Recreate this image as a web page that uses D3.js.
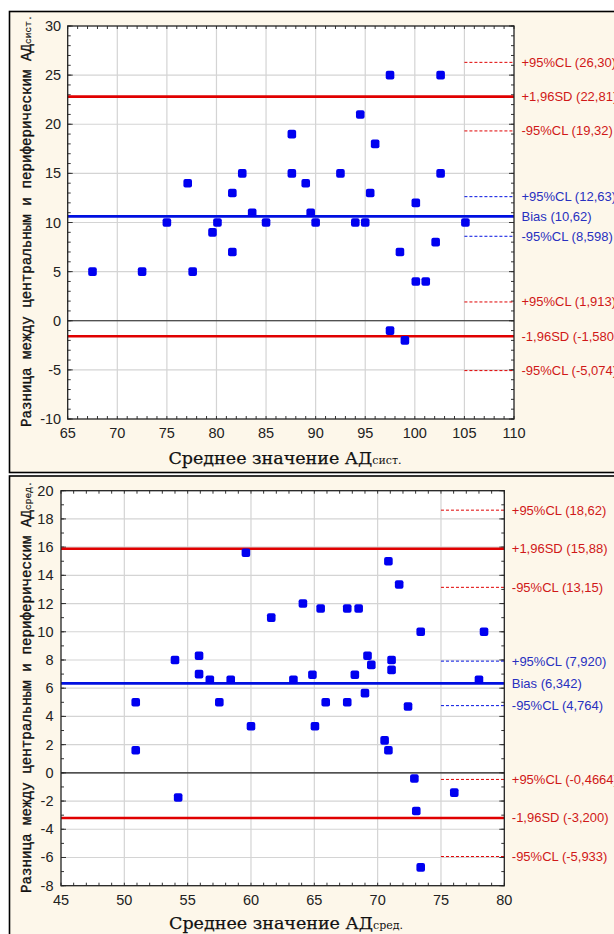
<!DOCTYPE html>
<html>
<head>
<meta charset="utf-8">
<script src="https://cdn.jsdelivr.net/npm/d3@7"></script>
<style>
  body { margin: 0; background: #fff; }
  svg text { font-family: "Liberation Sans", Arial, sans-serif; }
</style>
</head>
<body>
<svg id="chart" width="614" height="934"></svg>
<script>
// --- data: systolic (top) ---
var sysX = [67.5, 72.5, 75, 77.1, 77.6, 79.6, 80.1, 81.6, 81.6, 82.6, 83.6, 85, 87.6, 87.6, 89, 89.5, 90,
            92.5, 94, 94.5, 95, 95.5, 96, 97.5, 97.5, 98.5, 99, 100.1, 100.1, 101.1, 102.1, 102.6, 102.6, 105.1];
var sysY = [5, 5, 10, 14, 5, 9, 10, 13, 7, 15, 11, 10, 19, 15, 14, 11, 10,
            15, 10, 21, 10, 13, 18, 25, -1, 7, -2, 12, 4, 4, 8, 25, 15, 10];
var sysSolid = [22.81, 10.62, -1.58];
var sysSolidColors = ["#e00000", "#0010e0", "#e00000"];
var sysDashed = [26.30, 19.32, 12.63, 8.598, 1.913, -5.074];
var sysDashedColors = ["#e00000", "#e00000", "#0010e0", "#0010e0", "#e00000", "#e00000"];
var sysLabelVals = [26.30, 22.81, 19.32, 12.63, 10.62, 8.598, 1.913, -1.58, -5.074];
var sysLabels = ["+95%CL (26,30)", "+1,96SD (22,81)", "-95%CL (19,32)", "+95%CL (12,63)", "Bias (10,62)",
                 "-95%CL (8,598)", "+95%CL (1,913)", "-1,96SD (-1,580)", "-95%CL (-5,074)"];
var sysLabelColors = ["#d01818", "#d01818", "#d01818", "#2830c0", "#2830c0", "#2830c0", "#d01818", "#d01818", "#d01818"];

// --- data: mean (bottom) ---
var midX = [50.9, 50.9, 54, 54.25, 55.9, 55.9, 56.75, 57.5, 58.4, 59.6, 60, 61.6, 63.35, 64.1, 64.85, 65.05,
            65.5, 65.9, 67.6, 67.6, 68.2, 68.5, 69, 69.2, 69.5, 70.55, 70.85, 70.85, 71.1, 71.1, 71.7, 72.4,
            72.9, 73.05, 73.4, 73.4, 76.05, 78.4, 78];
var midY = [5, 1.6, 8, -1.75, 8.3, 7, 6.6, 5, 6.6, 15.6, 3.3, 11, 6.6, 12, 6.95, 3.3,
            11.65, 5, 11.65, 5, 6.95, 11.65, 5.65, 8.3, 7.65, 2.3, 15, 1.6, 8, 7.3, 13.35, 4.7,
            -0.4, -2.7, 10, -6.7, -1.4, 10, 6.6];
var midSolid = [15.88, 6.342, -3.200];
var midSolidColors = ["#e00000", "#0010e0", "#e00000"];
var midDashed = [18.62, 13.15, 7.920, 4.764, -0.4664, -5.933];
var midDashedColors = ["#e00000", "#e00000", "#0010e0", "#0010e0", "#e00000", "#e00000"];
var midLabelVals = [18.62, 15.88, 13.15, 7.920, 6.342, 4.764, -0.4664, -3.200, -5.933];
var midLabels = ["+95%CL (18,62)", "+1,96SD (15,88)", "-95%CL (13,15)", "+95%CL (7,920)", "Bias (6,342)",
                 "-95%CL (4,764)", "+95%CL (-0,4664)", "-1,96SD (-3,200)", "-95%CL (-5,933)"];
var midLabelColors = sysLabelColors;

var yTitleMain = "Разница между центральным и периферическим АД";
var xTitleMain = "Среднее значение АД";

var svg = d3.select("#chart");

function drawPanel(p) {
    var g = svg.append("g");
    // beige frame
    g.append("rect")
        .attr("x", p.fx).attr("y", p.fy)
        .attr("width", 700).attr("height", p.fh)
        .attr("fill", "#fdf7ea").attr("stroke", "#000").attr("stroke-width", 1.6);

    var x = d3.scaleLinear().domain(p.xDom).range([p.l, p.r]);
    var y = d3.scaleLinear().domain(p.yDom).range([p.b, p.t]);

    g.append("rect")
        .attr("x", p.l).attr("y", p.t)
        .attr("width", p.r - p.l).attr("height", p.b - p.t)
        .attr("fill", "#fff");

    var xMaj = d3.range(p.xDom[0], p.xDom[1] + 0.01, p.xStep);
    var yMaj = d3.range(p.yDom[0], p.yDom[1] + 0.01, p.yStep);
    var xMin = d3.range(p.xDom[0], p.xDom[1] + 0.01, p.xMinor);
    var yMin = d3.range(p.yDom[0], p.yDom[1] + 0.01, p.yMinor);

    // grid
    g.selectAll(".gx").data(xMaj.slice(1, -1)).enter().append("line")
        .attr("x1", d => x(d)).attr("x2", d => x(d))
        .attr("y1", p.t).attr("y2", p.b)
        .attr("stroke", "#d4d4d4").attr("stroke-width", 1.2);
    g.selectAll(".gy").data(yMaj.slice(1, -1)).enter().append("line")
        .attr("y1", d => y(d)).attr("y2", d => y(d))
        .attr("x1", p.l).attr("x2", p.r)
        .attr("stroke", "#d4d4d4").attr("stroke-width", 1.2);

    // inward ticks on four sides
    var tk = g.append("g").attr("stroke", "#333").attr("stroke-width", 1);
    xMin.forEach(function(d) {
        var len = 3;
        tk.append("line").attr("x1", x(d)).attr("x2", x(d)).attr("y1", p.b).attr("y2", p.b - len);
        tk.append("line").attr("x1", x(d)).attr("x2", x(d)).attr("y1", p.t).attr("y2", p.t + len);
    });
    yMin.forEach(function(d) {
        var len = 3;
        tk.append("line").attr("y1", y(d)).attr("y2", y(d)).attr("x1", p.l).attr("x2", p.l + len);
        tk.append("line").attr("y1", y(d)).attr("y2", y(d)).attr("x1", p.r).attr("x2", p.r - len);
    });
    yMaj.forEach(function(d) {
        tk.append("line").attr("y1", y(d)).attr("y2", y(d)).attr("x1", p.r).attr("x2", p.r - 5);
        tk.append("line").attr("y1", y(d)).attr("y2", y(d)).attr("x1", p.l).attr("x2", p.l + 5);
    });

    // zero line
    g.append("line")
        .attr("x1", p.l).attr("x2", p.r).attr("y1", y(0)).attr("y2", y(0))
        .attr("stroke", "#222").attr("stroke-width", 1.2);

    // solid limit lines
    p.solid.forEach(function(v, i) {
        g.append("line")
            .attr("x1", p.l).attr("x2", p.r).attr("y1", y(v)).attr("y2", y(v))
            .attr("stroke", p.solidColors[i]).attr("stroke-width", 2.6);
    });
    // dashed CI segments over last major step
    p.dashed.forEach(function(v, i) {
        g.append("line")
            .attr("x1", x(p.xDom[1] - p.xStep)).attr("x2", p.r)
            .attr("y1", y(v)).attr("y2", y(v))
            .attr("stroke", p.dashedColors[i]).attr("stroke-width", 1)
            .attr("stroke-dasharray", "3,2");
    });

    // plot frame
    g.append("rect")
        .attr("x", p.l).attr("y", p.t)
        .attr("width", p.r - p.l).attr("height", p.b - p.t)
        .attr("fill", "none").attr("stroke", "#222").attr("stroke-width", 1.3);

    // points
    var pts = p.xs.map((d, i) => [d, p.ys[i]]);
    var ms = 8.6;
    g.selectAll(".pt").data(pts).enter().append("rect")
        .attr("x", d => x(d[0]) - ms / 2).attr("y", d => y(d[1]) - ms / 2)
        .attr("width", ms).attr("height", ms).attr("rx", 2)
        .attr("fill", "#0000f0");

    // tick labels
    g.selectAll(".xl").data(xMaj).enter().append("text")
        .attr("x", d => x(d)).attr("y", p.b + 19)
        .attr("text-anchor", "middle").attr("font-size", 14.5).attr("fill", "#222")
        .text(d => d);
    g.selectAll(".yl").data(yMaj).enter().append("text")
        .attr("x", p.l - p.yLabOff).attr("y", d => y(d) + 5)
        .attr("text-anchor", "end").attr("font-size", 14.5).attr("fill", "#222")
        .text(d => d);

    // right labels (they run off the right edge, as in the original)
    p.labelVals.forEach(function(v, i) {
        g.append("text")
            .attr("x", p.r + 7.5).attr("y", y(v) + 4.5)
            .attr("font-size", 13).attr("fill", p.labelColors[i])
            .text(p.labels[i]);
    });

    // x title
    var xt = g.append("text")
        .attr("x", p.xtx).attr("y", p.xty)
        .attr("text-anchor", "middle")
        .style("font-family", "'DejaVu Serif', serif")
        .attr("font-size", 17.5).attr("fill", "#111")
        .attr("stroke", "#111").attr("stroke-width", 0.25);
    xt.append("tspan").text(xTitleMain);
    xt.append("tspan").attr("font-size", 11).attr("stroke-width", 0).text(p.sub);

    // y title
    var yt = g.append("text")
        .attr("transform", "translate(" + p.ytx + "," + p.yty + ") rotate(-90)")
        .style("font-family", "'Liberation Mono', 'Courier New', monospace")
        .attr("font-size", 14.2).attr("fill", "#111")
        .attr("stroke", "#111").attr("stroke-width", 0.35);
    yt.append("tspan").text(yTitleMain);
    yt.append("tspan").attr("font-size", 9.5).attr("stroke-width", 0.15).text(p.sub);
}

drawPanel({
    fx: 9.5, fy: 11.5, fh: 461,
    l: 67.7, t: 26, r: 514, b: 419,
    xDom: [65, 110], yDom: [-10, 30], xStep: 5, yStep: 5, xMinor: 1, yMinor: 1, yLabOff: 6.5,
    xs: sysX, ys: sysY,
    solid: sysSolid, solidColors: sysSolidColors,
    dashed: sysDashed, dashedColors: sysDashedColors,
    labelVals: sysLabelVals, labels: sysLabels, labelColors: sysLabelColors,
    xtx: 285, xty: 464, ytx: 31, yty: 427, sub: "сист."
});

drawPanel({
    fx: 9.5, fy: 476, fh: 500,
    l: 61, t: 490.7, r: 504.3, b: 885.7,
    xDom: [45, 80], yDom: [-8, 20], xStep: 5, yStep: 2, xMinor: 1, yMinor: 1, yLabOff: 7.5,
    xs: midX, ys: midY,
    solid: midSolid, solidColors: midSolidColors,
    dashed: midDashed, dashedColors: midDashedColors,
    labelVals: midLabelVals, labels: midLabels, labelColors: midLabelColors,
    xtx: 286, xty: 929, ytx: 31, yty: 893, sub: "сред."
});
</script>
</body>
</html>
